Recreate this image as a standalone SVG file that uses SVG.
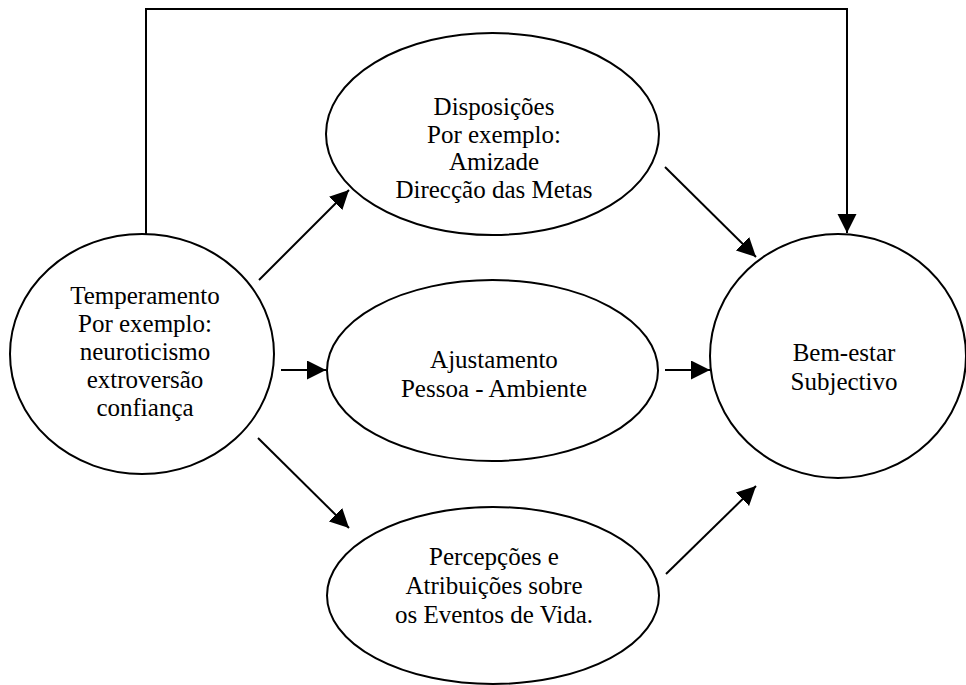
<svg xmlns="http://www.w3.org/2000/svg" width="966" height="685" viewBox="0 0 966 685">
  <style>
    .node { fill: #fff; stroke: #000; stroke-width: 2; }
    .edge { fill: none; stroke: #000; stroke-width: 2; }
    .lbl { font-family: 'Liberation Serif', 'Times New Roman', Times, 'DejaVu Serif', serif; font-size: 25px; fill: #000; text-anchor: middle; }
  </style>
  <defs>
    <marker id="arrow" markerUnits="userSpaceOnUse" markerWidth="20" markerHeight="20" refX="19" refY="9.5" orient="auto">
      <path d="M0,0 L19,9.5 L0,19 z" fill="#000"/>
    </marker>
  </defs>
  <rect width="966" height="685" fill="#fff"/>

  <g id="connectors">
    <polyline class="edge" points="146,234 146,9 847,9 847,233" marker-end="url(#arrow)"/>
    <line class="edge" x1="259" y1="280" x2="349" y2="190" marker-end="url(#arrow)"/>
    <line class="edge" x1="281" y1="370" x2="326" y2="370" marker-end="url(#arrow)"/>
    <line class="edge" x1="258" y1="438" x2="349" y2="528" marker-end="url(#arrow)"/>
    <line class="edge" x1="665" y1="167" x2="756" y2="257" marker-end="url(#arrow)"/>
    <line class="edge" x1="665" y1="370" x2="710" y2="370" marker-end="url(#arrow)"/>
    <line class="edge" x1="666" y1="574" x2="756" y2="486" marker-end="url(#arrow)"/>
  </g>

  <g id="temperamento">
    <ellipse class="node" cx="142" cy="354" rx="132" ry="120"/>
    <text class="lbl" font-family="Liberation Serif, serif" x="145" y="304">Temperamento</text>
    <text class="lbl" font-family="Liberation Serif, serif" x="145" y="332">Por exemplo:</text>
    <text class="lbl" font-family="Liberation Serif, serif" x="145" y="360">neuroticismo</text>
    <text class="lbl" font-family="Liberation Serif, serif" x="145" y="388">extroversão</text>
    <text class="lbl" font-family="Liberation Serif, serif" x="145" y="416">confiança</text>
  </g>

  <g id="disposicoes">
    <ellipse class="node" cx="492.5" cy="134" rx="166.5" ry="101"/>
    <text class="lbl" x="494" y="115">Disposições</text>
    <text class="lbl" x="494" y="143">Por exemplo:</text>
    <text class="lbl" x="494" y="170">Amizade</text>
    <text class="lbl" x="494" y="198">Direcção das Metas</text>
  </g>

  <g id="ajustamento">
    <ellipse class="node" cx="492.5" cy="370.5" rx="165.5" ry="90.5"/>
    <text class="lbl" x="494" y="368">Ajustamento</text>
    <text class="lbl" x="494" y="397">Pessoa - Ambiente</text>
  </g>

  <g id="percepcoes">
    <ellipse class="node" cx="493" cy="595.5" rx="166" ry="88.5"/>
    <text class="lbl" x="494" y="565">Percepções e</text>
    <text class="lbl" x="494" y="594">Atribuições sobre</text>
    <text class="lbl" x="494" y="623">os Eventos de Vida.</text>
  </g>

  <g id="bem-estar">
    <ellipse class="node" cx="838" cy="356" rx="128" ry="122"/>
    <text class="lbl" x="844" y="361">Bem-estar</text>
    <text class="lbl" x="844" y="390">Subjectivo</text>
  </g>
</svg>
